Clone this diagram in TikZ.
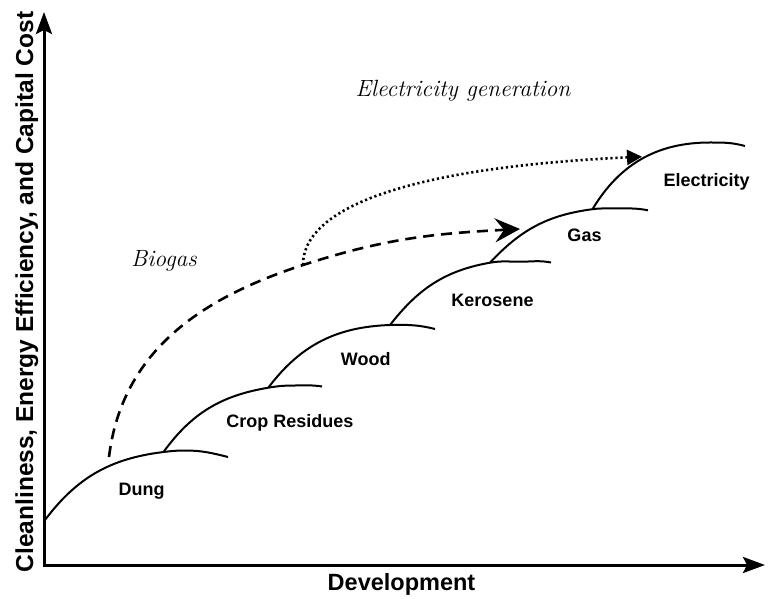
\documentclass[tikz,border=0pt]{standalone}
\usepackage{fontspec}
\setsansfont{Liberation Sans}
\usepackage{tikz}
\usetikzlibrary{arrows.meta}

\begin{document}
\begin{tikzpicture}[
x=1pt, y=1pt,
axis/.style={line width=3pt, {Stealth[length=22pt,width=16pt,inset=4pt]}-{Stealth[length=22pt,width=16pt,inset=4pt]}},
hump/.style={line width=2pt},
fuel/.style={font=\sffamily\bfseries\fontsize{18}{20}\selectfont, anchor=base, inner sep=0pt},
route/.style={font=\itshape\fontsize{23.5}{26}\selectfont, anchor=base, inner sep=0pt},
leap/.style={line width=2.6pt, dash pattern=on 11pt off 7pt, -{Stealth[length=25pt,width=24pt,inset=9pt]}},
hop/.style={line width=2.6pt, dash pattern=on 2.2pt off 2.8pt, -{Triangle[length=15pt,width=15pt]}}
]
\useasboundingbox (0,0) rectangle (768,598);

% axes
\coordinate (origin) at (44,33);
\coordinate (ytop) at (44,586);
\coordinate (xend) at (765,33);
\draw[axis] (ytop) -- (origin) -- (xend);
\node[font=\sffamily\bfseries\fontsize{23.5}{26}\selectfont, anchor=base, inner sep=0pt] (devel) at (401.5,8) {Development};
\node[font=\sffamily\bfseries\fontsize{24.5}{27}\selectfont, rotate=90, anchor=base, inner sep=0pt] (quality) at (33,306) {Cleanliness, Energy Efficiency, and Capital Cost};

% energy ladder
\coordinate (d0) at (45,78);
\coordinate (j1) at (163.5,146);
\coordinate (j2) at (268.3,210.3);
\coordinate (j3) at (390,273);
\coordinate (j4) at (490,335.3);
\coordinate (j5) at (592.5,388.8);
\draw[hump] (d0) to[out=53,in=187] (j1) to[out=7,in=180] (185,147.5) to[out=0,in=166] (228,141);
\draw[hump] (j1) to[out=54,in=189.5] (j2) to[out=9.5,in=180] (295,212.5) to[out=0,in=171] (322,211.5);
\draw[hump] (j2) to[out=53,in=182] (j3) to[out=2,in=180] (395,273.2) to[out=0,in=166] (435,269);
\draw[hump] (j3) to[out=52,in=190] (j4) to[out=10,in=180] (520,336.3) to[out=0,in=169] (551,335.5);
\draw[hump] (j4) to[out=47,in=187.5] (j5) to[out=7.5,in=180] (615,389.5) to[out=0,in=169] (648,387.7);
\draw[hump] (j5) to[out=59,in=180] (710,455.5) to[out=0,in=165] (745,452);

\node[fuel] (dung) at (141.7,103) {Dung};
\node[fuel] (crop) at (290,170.3) {Crop Residues};
\node[fuel] (wood) at (365.8,233) {Wood};
\node[fuel] (kero) at (492.5,292) {Kerosene};
\node[fuel] (gas) at (584.5,356.3) {Gas};
\node[fuel] (elec) at (706.7,411.3) {Electricity};

% shortcuts
\coordinate (b0) at (109,141);
\coordinate (bmid) at (303,333);
\coordinate (btip) at (520,369);
\coordinate (etip) at (642,441.3);
\draw[leap] (b0) to[out=83,in=198] (bmid) to[out=18,in=183] (btip);
\draw[hop] (bmid) .. controls (303,388) and (400,430) .. (etip);

\node[route] (biogas) at (164,331.3) {Biogas};
\node[route] (elecgen) at (463,501.3) {Electricity generation};
\end{tikzpicture}
\end{document}
